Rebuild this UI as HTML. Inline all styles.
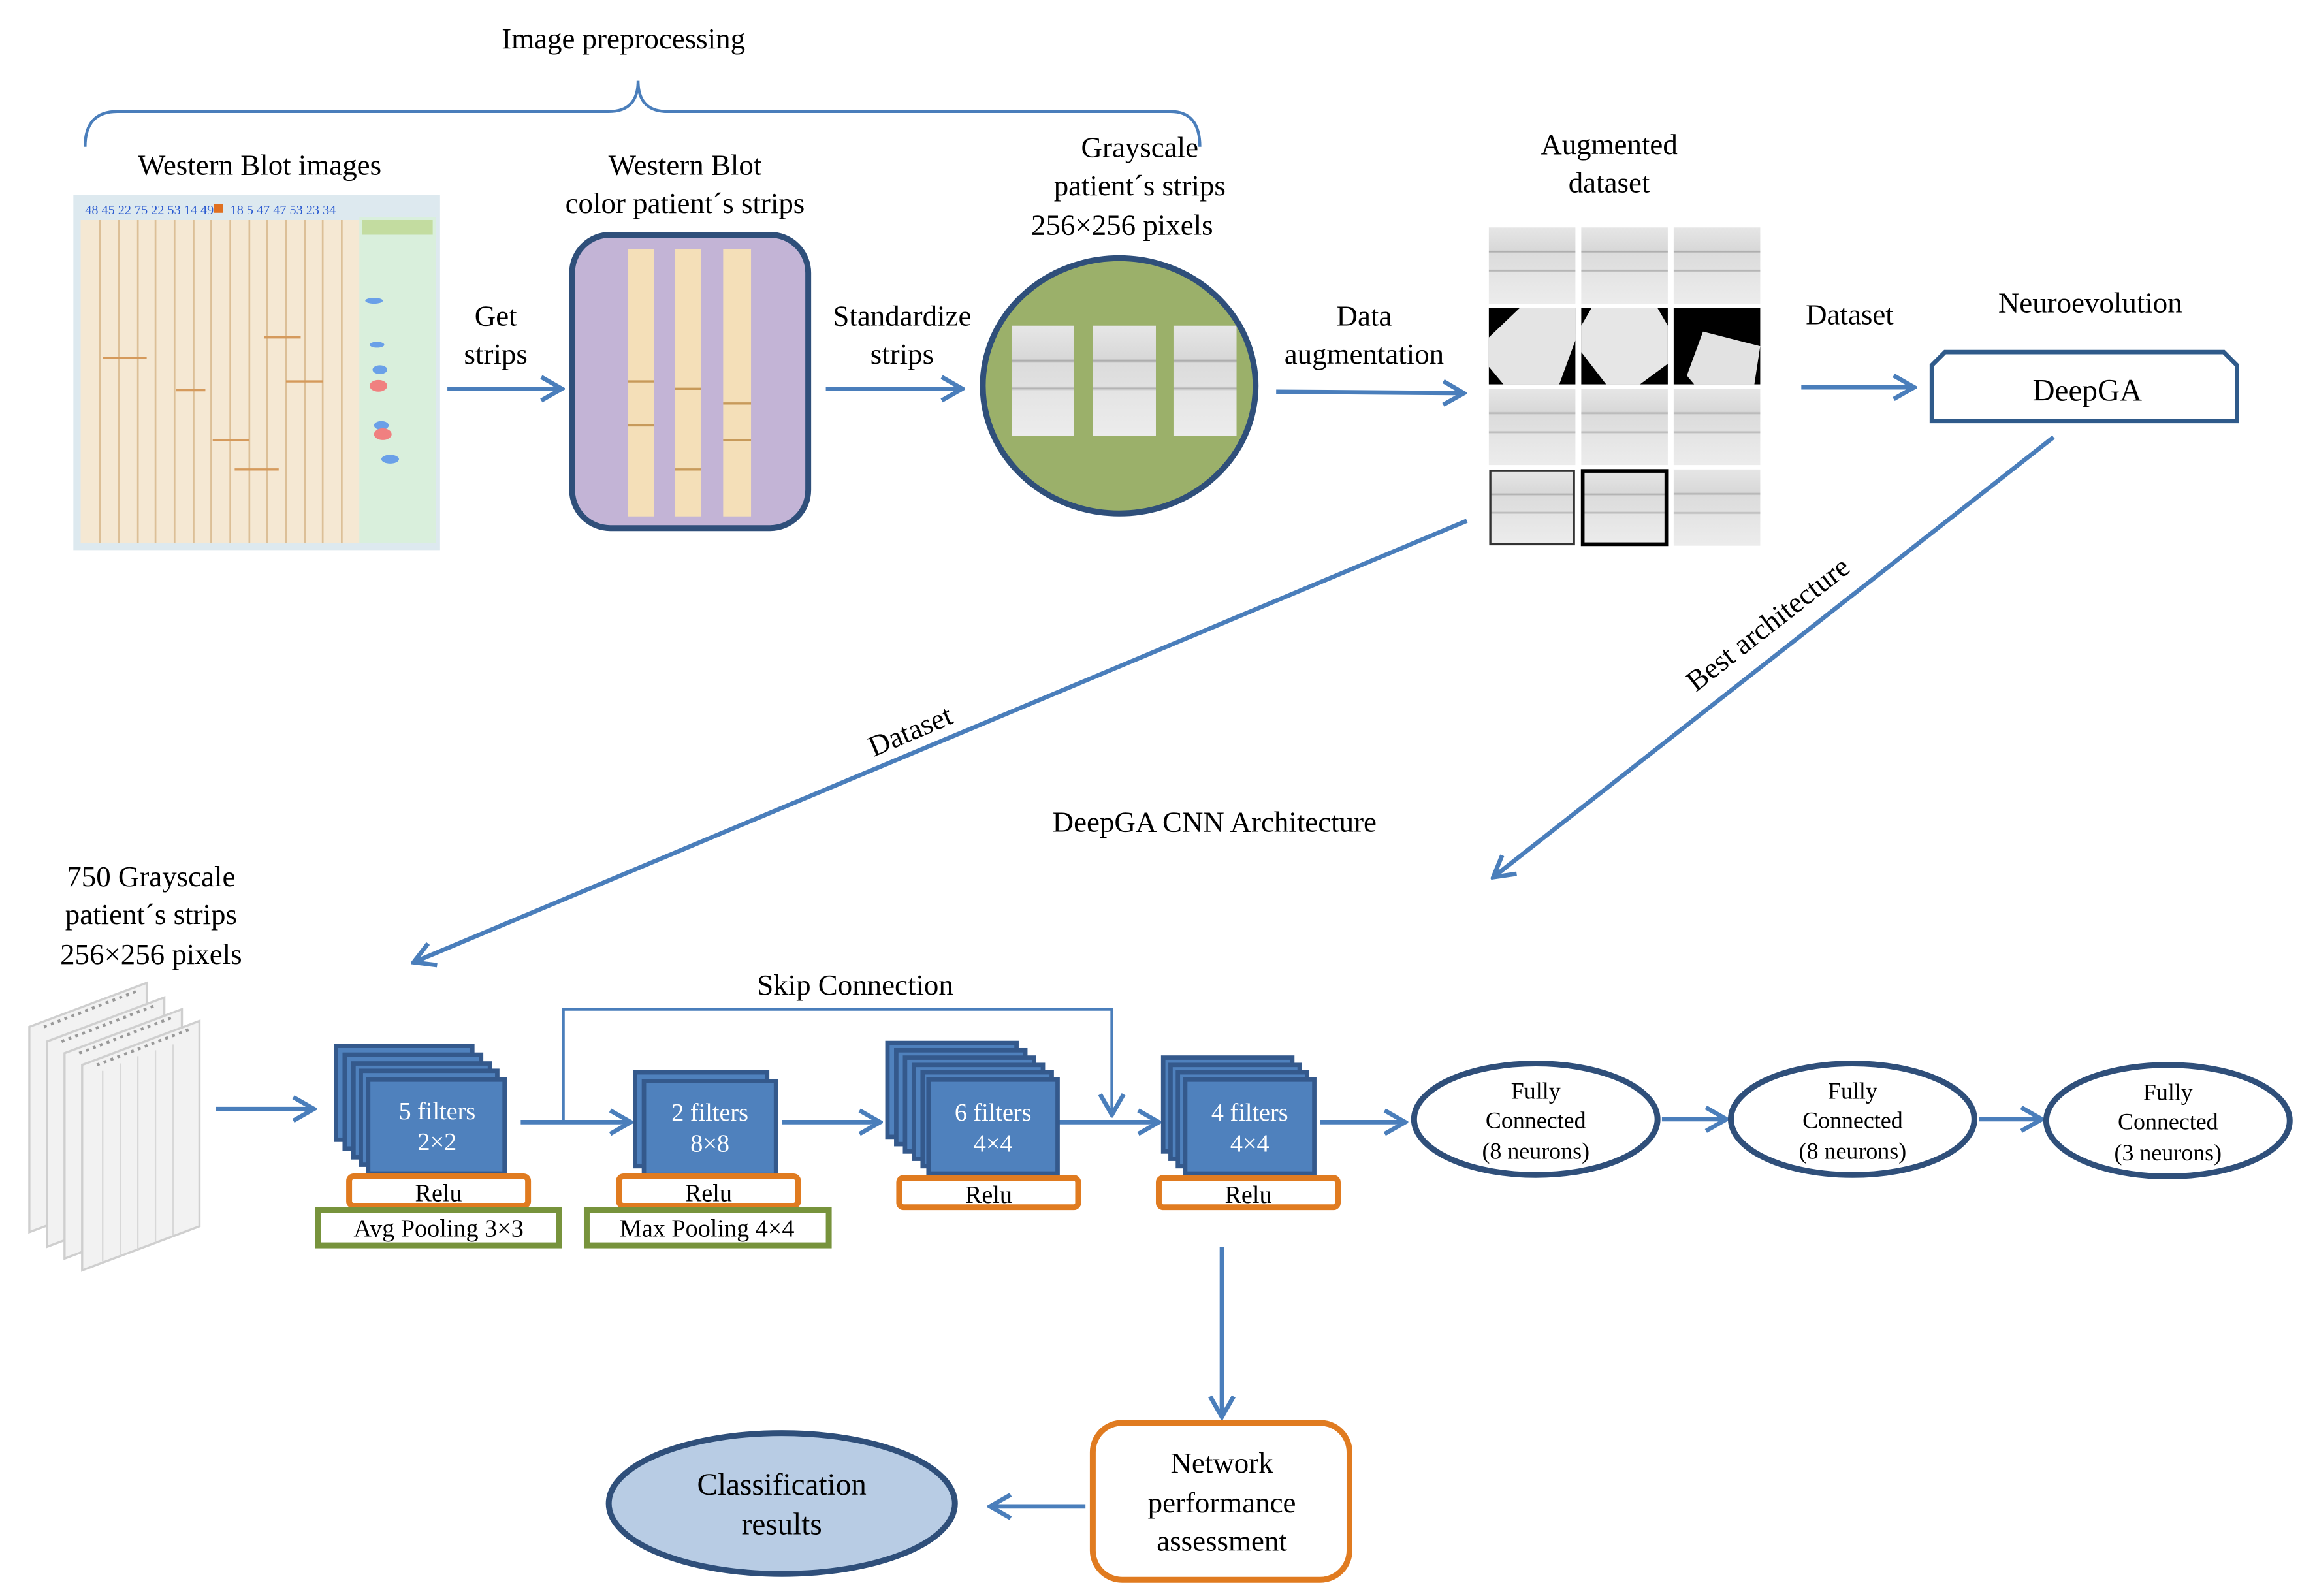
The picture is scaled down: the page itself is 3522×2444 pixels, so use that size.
<!DOCTYPE html>
<html><head><meta charset="utf-8"><style>html,body{margin:0;padding:0;background:#fff}svg{display:block}svg text{font-family:"Liberation Serif",serif}</style></head><body>
<svg width="3522" height="2444" viewBox="0 0 1568 1088" xmlns="http://www.w3.org/2000/svg" font-family="'Liberation Serif', serif" font-size="20">
<defs>
<marker id="ah2" viewBox="0 0 20 20" refX="18" refY="10" markerWidth="20" markerHeight="20" orient="auto" markerUnits="userSpaceOnUse">
<path d="M4,2 L18,10 L4,18" fill="none" stroke="#4a7ebb" stroke-width="3"/></marker>
<linearGradient id="gs" x1="0" y1="0" x2="0" y2="1"><stop offset="0" stop-color="#e6e6e6"/><stop offset="0.3" stop-color="#d8d8d8"/><stop offset="0.32" stop-color="#aaa"/><stop offset="0.34" stop-color="#dcdcdc"/><stop offset="0.55" stop-color="#e0e0e0"/><stop offset="0.57" stop-color="#b0b0b0"/><stop offset="0.59" stop-color="#e4e4e4"/><stop offset="1" stop-color="#ececec"/></linearGradient>
</defs>
<g fill="#000" text-anchor="middle">
<text x="425" y="33">Image preprocessing</text>
<text x="177" y="119">Western Blot images</text>
<text x="467" y="119">Western Blot</text><text x="467" y="145">color patient´s strips</text>
<text x="777" y="107">Grayscale</text><text x="777" y="133">patient´s strips</text><text x="765" y="160">256×256 pixels</text>
<text x="1097" y="105">Augmented</text><text x="1097" y="131">dataset</text>
<text x="338" y="222">Get</text><text x="338" y="248">strips</text>
<text x="615" y="222">Standardize</text><text x="615" y="248">strips</text>
<text x="930" y="222">Data</text><text x="930" y="248">augmentation</text>
<text x="1261" y="221">Dataset</text>
<text x="1425" y="213">Neuroevolution</text>
<text x="828" y="567">DeepGA CNN Architecture</text>
<text x="103" y="604">750 Grayscale</text><text x="103" y="630">patient´s strips</text><text x="103" y="657">256×256 pixels</text>
<text x="583" y="678">Skip Connection</text>
<text x="620" y="505" transform="rotate(-23 620 497)">Dataset</text>
<text x="1205" y="432" transform="rotate(-38 1205 425)">Best architecture</text>
</g>
<path d="M58,100 Q58,76 80,76 L415,76 Q435,76 435,55 Q435,76 455,76 L798,76 Q818,76 818,100" fill="none" stroke="#4a7ebb" stroke-width="2"/>
<rect x="50" y="133" width="250" height="242" fill="#dde9ef"/>
<rect x="55" y="150" width="190" height="220" fill="#f5e8d3"/>
<g stroke="#dcbf97" stroke-width="1.2">
<line x1="68" y1="150" x2="68" y2="370"/><line x1="81" y1="150" x2="81" y2="370"/><line x1="94" y1="150" x2="94" y2="370"/><line x1="106" y1="150" x2="106" y2="370"/><line x1="119" y1="150" x2="119" y2="370"/><line x1="132" y1="150" x2="132" y2="370"/><line x1="144" y1="150" x2="144" y2="370"/><line x1="157" y1="150" x2="157" y2="370"/><line x1="170" y1="150" x2="170" y2="370"/><line x1="182" y1="150" x2="182" y2="370"/><line x1="195" y1="150" x2="195" y2="370"/><line x1="208" y1="150" x2="208" y2="370"/><line x1="220" y1="150" x2="220" y2="370"/><line x1="233" y1="150" x2="233" y2="370"/>
</g>
<g stroke="#d59a5c" stroke-width="1.5">
<line x1="70" y1="244" x2="100" y2="244"/><line x1="120" y1="266" x2="140" y2="266"/><line x1="145" y1="300" x2="170" y2="300"/><line x1="160" y1="320" x2="190" y2="320"/><line x1="195" y1="260" x2="220" y2="260"/><line x1="180" y1="230" x2="205" y2="230"/>
</g>
<rect x="245" y="148" width="52" height="222" fill="#d9efdc"/>
<rect x="247" y="150" width="48" height="10" fill="#c3dca0"/>
<g fill="#6aa0e8"><ellipse cx="255" cy="205" rx="6" ry="2"/><ellipse cx="257" cy="235" rx="5" ry="2"/><ellipse cx="259" cy="252" rx="5" ry="3"/><ellipse cx="260" cy="290" rx="5" ry="3"/><ellipse cx="266" cy="313" rx="6" ry="3"/></g>
<g fill="#f08080"><ellipse cx="258" cy="263" rx="6" ry="4"/><ellipse cx="261" cy="296" rx="6" ry="4"/></g>
<g fill="#2a5ad0" font-size="9"><text x="58" y="146">48 45 22 75 22 53 14 49</text><text x="157" y="146">18 5 47 47 53 23 34</text></g>
<rect x="146" y="139" width="6" height="6" fill="#e07020"/>
<rect x="390" y="160" width="161" height="200" rx="26" fill="#c3b4d6" stroke="#2f4f7a" stroke-width="4"/>
<rect x="428" y="170" width="18" height="182" fill="#f4dfb8"/><rect x="460" y="170" width="18" height="182" fill="#f4dfb8"/><rect x="493" y="170" width="19" height="182" fill="#f4dfb8"/>
<g stroke="#c79a5a" stroke-width="1.5"><line x1="428" y1="260" x2="446" y2="260"/><line x1="428" y1="290" x2="446" y2="290"/><line x1="460" y1="265" x2="478" y2="265"/><line x1="460" y1="320" x2="478" y2="320"/><line x1="493" y1="275" x2="512" y2="275"/><line x1="493" y1="300" x2="512" y2="300"/></g>
<ellipse cx="763" cy="263" rx="93" ry="87" fill="#9bb06a" stroke="#2f4f7a" stroke-width="4"/>
<rect x="690" y="222" width="42" height="75" fill="url(#gs)"/><rect x="745" y="222" width="43" height="75" fill="url(#gs)"/><rect x="800" y="222" width="43" height="75" fill="url(#gs)"/>
<g>
<rect x="1015" y="155" width="59" height="52" fill="url(#gs)"/><rect x="1078" y="155" width="59" height="52" fill="url(#gs)"/><rect x="1141" y="155" width="59" height="52" fill="url(#gs)"/>
<rect x="1015" y="210" width="59" height="52" fill="#000"/><rect x="1078" y="210" width="59" height="52" fill="#000"/><rect x="1141" y="210" width="59" height="52" fill="#000"/>
<polygon points="1036,210 1074,210 1074,232 1063,262 1025,262 1015,250 1015,230" fill="#e4e4e4"/>
<polygon points="1085,210 1130,210 1137,222 1137,248 1118,262 1095,262 1078,240 1078,222" fill="#e6e6e6"/>
<polygon points="1155,262 1150,256 1161,226 1200,236 1196,262" fill="#e2e2e2"/>
<rect x="1015" y="265" width="59" height="52" fill="url(#gs)"/><rect x="1078" y="265" width="59" height="52" fill="url(#gs)"/><rect x="1141" y="265" width="59" height="52" fill="url(#gs)"/>
<rect x="1016" y="321" width="57" height="50" fill="url(#gs)" stroke="#333" stroke-width="1.5"/><rect x="1079" y="321" width="57" height="50" fill="url(#gs)" stroke="#000" stroke-width="2.5"/><rect x="1141" y="320" width="59" height="52" fill="url(#gs)"/>
</g>
<path d="M1317,287 L1317,249 L1326,240 L1516,240 L1525,249 L1525,287 Z" fill="#fff" stroke="#2f5a8a" stroke-width="3"/>
<text x="1423" y="273" text-anchor="middle" font-size="21">DeepGA</text>
<g stroke="#4a7ebb" stroke-width="3" fill="none" marker-end="url(#ah2)">
<line x1="305" y1="265" x2="383" y2="265"/>
<line x1="563" y1="265" x2="656" y2="265"/>
<line x1="870" y1="267" x2="998" y2="268"/>
<line x1="1228" y1="264" x2="1305" y2="264"/>
<line x1="1400" y1="298" x2="1018" y2="598"/>
<line x1="1000" y1="355" x2="282" y2="656"/>
<line x1="147" y1="756" x2="214" y2="756"/>
<line x1="355" y1="765" x2="430" y2="765"/>
<line x1="533" y1="765" x2="600" y2="765"/>
<line x1="722" y1="765" x2="790" y2="765"/>
<line x1="900" y1="765" x2="958" y2="765"/>
<line x1="1133" y1="763" x2="1177" y2="763"/>
<line x1="1349" y1="763" x2="1392" y2="763"/>
<line x1="833" y1="850" x2="833" y2="966"/>
<line x1="740" y1="1027" x2="675" y2="1027"/>
</g>
<path d="M384,765 L384,688 L758,688 L758,760" fill="none" stroke="#4a7ebb" stroke-width="2" marker-end="url(#ah2)"/>
<g fill="#f2f2f2" stroke="#cfcfcf" stroke-width="1.5">
<polygon points="20,700 100,670 100,810 20,840"/>
<polygon points="32,710 112,680 112,820 32,850"/>
<polygon points="44,718 124,688 124,828 44,858"/>
<polygon points="56,726 136,696 136,836 56,866"/>
</g>
<g stroke="#d8d8d8" stroke-width="1"><line x1="70" y1="730" x2="70" y2="860"/><line x1="82" y1="725" x2="82" y2="856"/><line x1="94" y1="720" x2="94" y2="852"/><line x1="106" y1="716" x2="106" y2="847"/><line x1="118" y1="712" x2="118" y2="842"/></g>
<g stroke="#999" stroke-width="2" stroke-dasharray="2 3"><line x1="30" y1="700" x2="95" y2="675"/><line x1="42" y1="710" x2="107" y2="685"/><line x1="54" y1="718" x2="119" y2="693"/><line x1="66" y1="726" x2="131" y2="701"/></g>
<g fill="#4f81bd" stroke="#34598c" stroke-width="3">
<rect x="229" y="713" width="93" height="64"/><rect x="235" y="719" width="93" height="64"/><rect x="241" y="725" width="93" height="64"/><rect x="246" y="730" width="93" height="64"/><rect x="251" y="736" width="93" height="64"/>
<rect x="433" y="731" width="90" height="64"/><rect x="439" y="737" width="90" height="64"/>
<rect x="605" y="711" width="88" height="64"/><rect x="611" y="716" width="88" height="64"/><rect x="617" y="721" width="88" height="64"/><rect x="623" y="726" width="88" height="64"/><rect x="629" y="731" width="88" height="64"/><rect x="633" y="736" width="88" height="64"/>
<rect x="793" y="721" width="88" height="64"/><rect x="798" y="726" width="88" height="64"/><rect x="803" y="731" width="88" height="64"/><rect x="808" y="736" width="88" height="64"/>
</g>
<g fill="#fff" text-anchor="middle" font-size="17">
<text x="298" y="763">5 filters</text><text x="298" y="784">2×2</text>
<text x="484" y="764">2 filters</text><text x="484" y="785">8×8</text>
<text x="677" y="764">6 filters</text><text x="677" y="785">4×4</text>
<text x="852" y="764">4 filters</text><text x="852" y="785">4×4</text>
</g>
<g fill="#fff" stroke="#e07b20" stroke-width="4">
<rect x="238" y="802" width="122" height="20" rx="3"/><rect x="422" y="802" width="122" height="20" rx="3"/><rect x="613" y="803" width="122" height="20" rx="3"/><rect x="790" y="803" width="122" height="20" rx="3"/>
</g>
<g fill="#fff" stroke="#77933c" stroke-width="4"><rect x="217" y="825" width="164" height="24"/><rect x="400" y="825" width="165" height="24"/></g>
<g text-anchor="middle" font-size="17">
<text x="299" y="819">Relu</text><text x="483" y="819">Relu</text><text x="674" y="820">Relu</text><text x="851" y="820">Relu</text>
<text x="299" y="843">Avg Pooling 3×3</text><text x="482" y="843">Max Pooling 4×4</text>
</g>
<g fill="#fff" stroke="#2f4f7a" stroke-width="4"><ellipse cx="1047" cy="763" rx="83" ry="38"/><ellipse cx="1263" cy="763" rx="83" ry="38"/><ellipse cx="1478" cy="764" rx="83" ry="38"/></g>
<g text-anchor="middle" font-size="16">
<text x="1047" y="749">Fully</text><text x="1047" y="769">Connected</text><text x="1047" y="790">(8 neurons)</text>
<text x="1263" y="749">Fully</text><text x="1263" y="769">Connected</text><text x="1263" y="790">(8 neurons)</text>
<text x="1478" y="750">Fully</text><text x="1478" y="770">Connected</text><text x="1478" y="791">(3 neurons)</text>
</g>
<rect x="745" y="970" width="175" height="107" rx="20" fill="#fff" stroke="#e07b20" stroke-width="4"/>
<g text-anchor="middle"><text x="833" y="1004">Network</text><text x="833" y="1031">performance</text><text x="833" y="1057">assessment</text></g>
<ellipse cx="533" cy="1025" rx="118" ry="48" fill="#b8cce4" stroke="#2f4f7a" stroke-width="4"/>
<g text-anchor="middle" font-size="21"><text x="533" y="1019">Classification</text><text x="533" y="1046">results</text></g>
</svg>
</body></html>
